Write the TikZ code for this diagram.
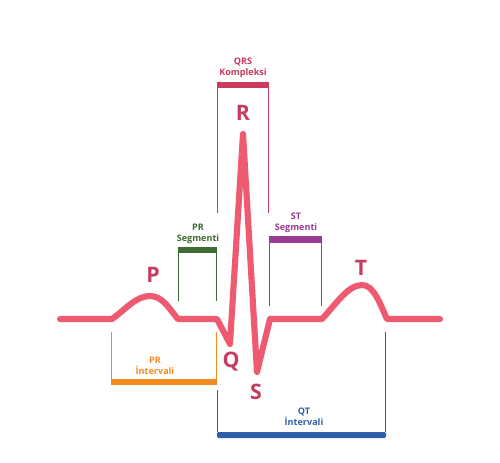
\documentclass[tikz,border=0pt]{standalone}
\usepackage{fontspec}
\setmainfont{Open Sans}
\definecolor{ecg}{HTML}{EE5A6F}
\definecolor{lbl}{HTML}{C73B5E}
\definecolor{qrsc}{HTML}{CC3A5E}
\definecolor{prseg}{HTML}{3F6B34}
\definecolor{stseg}{HTML}{9B3A92}
\definecolor{print}{HTML}{F58A20}
\definecolor{qtc}{HTML}{2E5FA8}
\begin{document}
\begin{tikzpicture}[x=0.75pt,y=-0.75pt,
  wave/.style={line width=4.6pt,ecg,line cap=round,line join=round},
  bigl/.style={font=\fontsize{16}{16}\selectfont\bfseries,text=lbl,inner sep=0pt},
  small/.style={font=\fontsize{6.8}{8}\selectfont\bfseries,align=center,inner sep=0pt},
  thin/.style={line width=0.7pt}]
\useasboundingbox (0,0) rectangle (500,462);
\fill[white] (0,0) rectangle (500,462);

% ECG trace
\coordinate (s0) at (60,319);
\coordinate (p0) at (112,319);
\coordinate (pk) at (150,296);
\coordinate (p1) at (178,319);
\coordinate (q0) at (217,319);
\coordinate (qq) at (230,344);
\coordinate (rr) at (243,134);
\coordinate (ss) at (257,372);
\coordinate (s1) at (270,319);
\coordinate (t0) at (322,319);
\coordinate (tk) at (362,285);
\coordinate (t1) at (387,319);
\coordinate (e0) at (440,319);
\draw[wave] (s0) -- (p0) .. controls (126,309) and (136,296) .. (pk)
  .. controls (163,296) and (170,310) .. (p1) -- (q0) -- (qq) -- (rr) -- (ss) -- (s1) -- (t0)
  .. controls (336,304) and (348,285) .. (tk) .. controls (374,285) and (380,304) .. (t1) -- (e0);

% wave letters
\node[bigl] (P) at (153,275) {P};
\node[bigl] (Q) at (231,362) {Q};
\node[bigl] (R) at (243,113) {R};
\node[bigl] (S) at (256,392) {S};
\node[bigl] (T) at (361,268) {T};

% QRS complex
\fill[qrsc] (217,82) rectangle (269,88);
\draw[thin,qrsc] (217.5,88) -- (217.5,213) (268.5,88) -- (268.5,213);
\node[small,text=qrsc] (qrs) at (243,68) {QRS\\Kompleksi};

% PR segment
\fill[prseg] (178,247) rectangle (217,253);
\draw[thin,prseg] (178.5,253) -- (178.5,301) (216.5,253) -- (216.5,301);
\node[small,text=prseg] (prs) at (198,234) {PR\\Segmenti};

% ST segment
\fill[stseg] (269,236) rectangle (322,243);
\draw[thin,stseg] (269.5,243) -- (269.5,306) (321.5,243) -- (321.5,306);
\node[small,text=stseg] (sts) at (296,223) {ST\\Segmenti};

% PR interval
\fill[print] (111,379) rectangle (217,385);
\draw[thin,print] (111.5,332) -- (111.5,379) (216.5,332) -- (216.5,379);
\node[small,text=print] (pri) at (155,366) {PR\\İntervali};

% QT interval
\fill[qtc,rounded corners=1pt] (217,432) rectangle (386,438);
\draw[thin,qtc] (217.5,390) -- (217.5,432) (385.5,332) -- (385.5,432);
\node[small,text=qtc] (qti) at (304,417) {QT\\İntervali};
\end{tikzpicture}
\end{document}
